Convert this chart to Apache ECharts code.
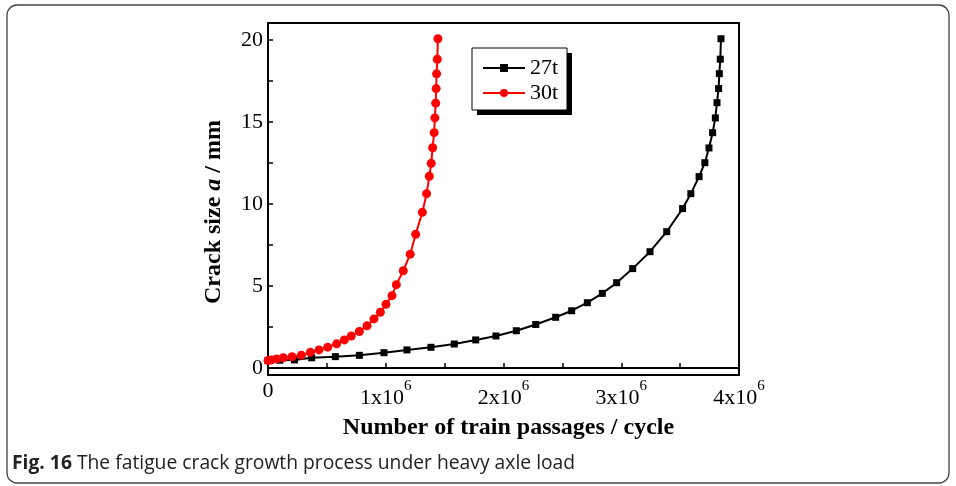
<!DOCTYPE html>
<html>
<head>
<meta charset="utf-8">
<script src="https://cdn.jsdelivr.net/npm/echarts@6/dist/echarts.min.js"></script>
<style>
  html, body { margin: 0; padding: 0; background: #fff; }
  #chart { width: 956px; height: 486px; }
</style>
</head>
<body>
<div id="chart"></div>
<script>
// Number of train passages (cycles) and crack size a (mm) for each axle load
const cycles27t = [0, 100000, 224000, 371000, 572000, 776000, 985000, 1180000, 1384000, 1582000,
  1764000, 1936000, 2109000, 2274000, 2443000, 2579000, 2712000, 2839000, 2961000, 3097000,
  3244000, 3386000, 3521000, 3591000, 3661000, 3710000, 3745000, 3776000, 3799000, 3813000,
  3827000, 3833000, 3841000, 3847000];
const crack27t = [0.45, 0.47, 0.49, 0.62, 0.69, 0.77, 0.93, 1.10, 1.26, 1.46,
  1.71, 1.95, 2.27, 2.65, 3.09, 3.49, 3.98, 4.55, 5.20, 6.06,
  7.09, 8.31, 9.72, 10.63, 11.67, 12.52, 13.42, 14.35, 15.25, 16.18,
  17.04, 17.95, 18.83, 20.08];

const cycles30t = [0, 30000, 74000, 130000, 204000, 283000, 360000, 433000, 507000, 583000,
  648000, 707000, 776000, 841000, 900000, 954000, 1002000, 1053000, 1090000, 1149000,
  1208000, 1254000, 1311000, 1347000, 1370000, 1386000, 1398000, 1411000, 1417000, 1424000,
  1428000, 1432000, 1438000, 1443000];
const crack30t = [0.45, 0.49, 0.55, 0.62, 0.69, 0.78, 0.95, 1.10, 1.27, 1.47,
  1.71, 1.95, 2.22, 2.57, 2.99, 3.40, 3.88, 4.41, 5.08, 5.93,
  6.94, 8.15, 9.49, 10.63, 11.69, 12.48, 13.43, 14.35, 15.25, 16.15,
  17.04, 17.94, 18.83, 20.08];

const seriesNames = ['27t', '30t'];
const xTickValues = [0, 1000000, 2000000, 3000000, 4000000];
const yLabelValues = [0, 5, 10, 15, 20];
const yTickValues = [0, 2.5, 5, 7.5, 10, 12.5, 15, 17.5, 20];

const serif = 'Liberation Serif';
const pairs = (xs, ys) => xs.map((x, i) => [x, ys[i]]);

const chart = echarts.init(document.getElementById('chart'), null, { renderer: 'canvas' });

chart.setOption({
  backgroundColor: '#fff',
  animation: false,
  grid: {
    left: 268, right: 217, top: 23, bottom: 111,
    show: true, borderColor: '#000', borderWidth: 2, backgroundColor: 'transparent'
  },
  legend: {
    data: seriesNames,
    orient: 'vertical',
    left: 472, top: 48,
    padding: [9, 12, 8, 10],
    itemGap: 3,
    itemWidth: 42, itemHeight: 10,
    textStyle: { fontFamily: serif, fontSize: 22, color: '#000' }
  },
  xAxis: {
    type: 'value',
    min: xTickValues[0], max: xTickValues[xTickValues.length - 1], interval: 1000000,
    name: 'Number of train passages / cycle',
    nameLocation: 'middle', nameGap: 41,
    nameTextStyle: {
      fontFamily: serif, fontWeight: 'bold', fontSize: 24, color: '#000',
      padding: [0, 0, 0, 10]
    },
    axisLine: { show: true, lineStyle: { color: '#000', width: 2 } },
    axisTick: { show: true, inside: true, length: 5, lineStyle: { color: '#000', width: 1.5 } },
    minorTick: { show: true, splitNumber: 2, length: 5, lineStyle: { color: '#000', width: 1.5 } },
    splitLine: { show: false },
    axisLabel: {
      margin: 4,
      formatter: function (v) {
        if (v === 0) return '{z|0}';
        return '{n|' + (v / 1000000) + 'x10}{s|6}';
      },
      rich: {
        z: { fontFamily: serif, fontSize: 22, color: '#000', lineHeight: 24 },
        n: { fontFamily: serif, fontSize: 22, color: '#000', lineHeight: 30, verticalAlign: 'bottom' },
        s: { fontFamily: serif, fontSize: 15, color: '#000', lineHeight: 30, verticalAlign: 'top' }
      }
    }
  },
  yAxis: {
    type: 'value',
    min: -0.43, max: 21.04,
    name: '{b|Crack size }{i|a}{b| / mm}',
    nameLocation: 'middle', nameGap: 42,
    nameTextStyle: {
      padding: [0, 26, 0, 0],
      rich: {
        b: { fontFamily: serif, fontWeight: 'bold', fontSize: 24, color: '#000' },
        i: { fontFamily: serif, fontWeight: 'bold', fontStyle: 'italic', fontSize: 24, color: '#000' }
      }
    },
    axisLine: { show: true, lineStyle: { color: '#000', width: 2 } },
    axisTick: {
      show: true, inside: true, length: 5, customValues: yTickValues,
      lineStyle: { color: '#000', width: 1.5 }
    },
    splitLine: { show: false },
    axisLabel: {
      margin: 5, customValues: yLabelValues,
      fontFamily: serif, fontSize: 22, color: '#000'
    }
  },
  series: [
    {
      name: seriesNames[0],
      type: 'line',
      data: pairs(cycles27t, crack27t),
      symbol: 'rect', symbolSize: 7,
      color: '#000',
      lineStyle: { color: '#000', width: 2 },
      itemStyle: { color: '#000' },
      z: 2
    },
    {
      name: seriesNames[1],
      type: 'line',
      data: pairs(cycles30t, crack30t),
      symbol: 'circle', symbolSize: 9,
      color: '#ff0000',
      lineStyle: { color: '#ff0000', width: 2 },
      itemStyle: { color: '#ff0000' },
      z: 2.5
    }
  ],
  graphic: [
    {
      type: 'rect',
      shape: { x: 7, y: 5, width: 942, height: 478, r: 10 },
      style: { fill: 'none', stroke: '#444', lineWidth: 1.3 },
      silent: true, z: -1
    },
    // legend frame with its offset drop shadow
    {
      type: 'rect',
      shape: { x: 477, y: 53, width: 95, height: 62 },
      style: { fill: '#000' },
      silent: true, z: 3
    },
    {
      type: 'rect',
      shape: { x: 472, y: 48, width: 95, height: 62 },
      style: { fill: '#fff', stroke: '#000', lineWidth: 1 },
      silent: true, z: 3.5
    },
    {
      type: 'text',
      left: 12, top: 454,
      style: {
        text: '{b|Fig. 16}{t| The fatigue crack growth process under heavy axle load}',
        rich: {
          b: { fontFamily: 'Open Sans', fontWeight: 'bold', fontSize: 19.3, fill: '#222' },
          t: { fontFamily: 'Open Sans', fontSize: 19.3, fill: '#222' }
        }
      },
      silent: true
    }
  ]
});
</script>
</body>
</html>
